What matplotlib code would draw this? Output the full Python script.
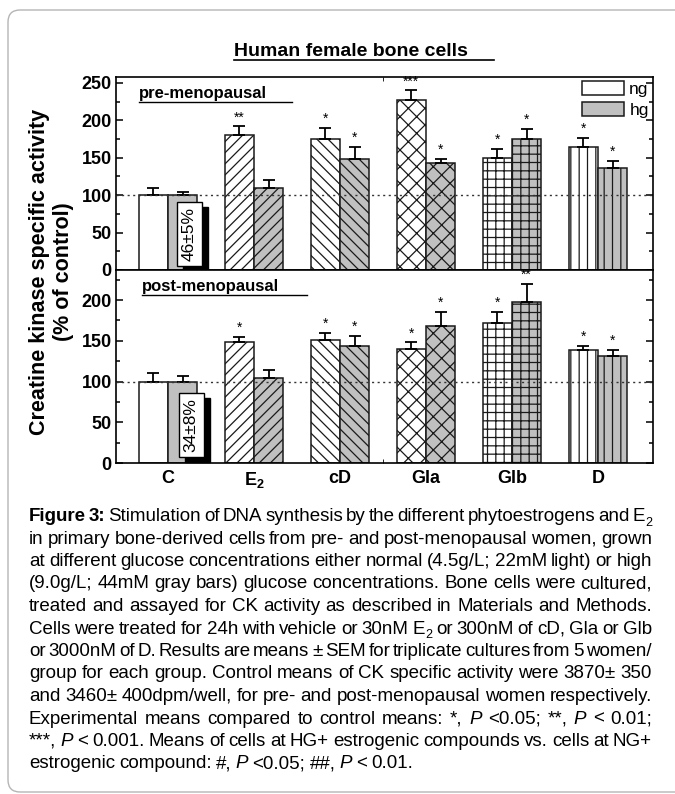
import numpy as np
import matplotlib
matplotlib.use('Agg')
import matplotlib.pyplot as plt
from matplotlib.patches import Patch, FancyBboxPatch, Rectangle

plt.rcParams['font.family'] = ['Liberation Sans', 'DejaVu Sans']
plt.rcParams['mathtext.fontset'] = 'custom'
plt.rcParams['mathtext.rm'] = 'Liberation Sans'
plt.rcParams['mathtext.it'] = 'Liberation Sans:italic'
plt.rcParams['mathtext.bf'] = 'Liberation Sans:bold'
plt.rcParams['hatch.linewidth'] = 0.9

# Grupos y tramas
grupos = ['C', r'$\mathbf{E_2}$', 'cD', 'Gla', 'Glb', 'D']
tramas = ['', '///', '\\\\\\', 'xx', '++', '||']

# Pre-menopausicas
pre_ng = [100, 180, 175, 227, 150, 164]
pre_ng_err = [9, 12, 15, 13, 12, 13]
pre_hg = [100, 109, 149, 143, 175, 136]
pre_hg_err = [4, 11, 15, 6, 13, 10]
pre_ng_sig = ['', '**', '*', '***', '*', '*']
pre_hg_sig = ['', '', '*', '*', '*', '*']

# Post-menopausicas
post_ng = [100, 148, 151, 140, 172, 139]
post_ng_err = [11, 7, 9, 8, 13, 5]
post_hg = [100, 104, 144, 168, 198, 131]
post_hg_err = [7, 10, 12, 17, 22, 8]
post_ng_sig = ['', '*', '*', '*', '*', '*']
post_hg_sig = ['', '', '*', '*', '**', '*']

# Texto de la leyenda de la figura
leyenda = [
    [('Figure 3:', 'b'), (' Stimulation of DNA synthesis by the different phytoestrogens and E', 'n'), ('2', 's')],
    [('in primary bone-derived cells from pre- and post-menopausal women, grown', 'n')],
    [('at different glucose concentrations either normal (4.5g/L; 22mM light) or high', 'n')],
    [('(9.0g/L; 44mM gray bars) glucose concentrations. Bone cells were cultured,', 'n')],
    [('treated and assayed for CK activity as described in Materials and Methods.', 'n')],
    [('Cells were treated for 24h with vehicle or 30nM E', 'n'), ('2', 's'), (' or 300nM of cD, Gla or Glb', 'n')],
    [('or 3000nM of D. Results are means \u00b1 SEM for triplicate cultures from 5 women/', 'n')],
    [('group for each group. Control means of CK specific activity were 3870\u00b1 350', 'n')],
    [('and 3460\u00b1 400dpm/well, for pre- and post-menopausal women respectively.', 'n')],
    [('Experimental means compared to control means: *, ', 'n'), ('P', 'i'), (' <0.05; **, ', 'n'),
     ('P', 'i'), (' < 0.01;', 'n')],
    [('***, ', 'n'), ('P', 'i'), (' < 0.001. Means of cells at HG+ estrogenic compounds vs. cells at NG+', 'n')],
    [('estrogenic compound: #, ', 'n'), ('P', 'i'), (' <0.05; ##, ', 'n'), ('P', 'i'), (' < 0.01.', 'n')],
]

W, H = 675, 794
fig = plt.figure(figsize=(W / 100, H / 100), dpi=100)


def fx(x):
    return x / W


def fy(y):
    return 1 - y / H


# Marco redondeado
marco = FancyBboxPatch((fx(8), fy(792)), fx(720) - fx(8), fy(10) - fy(792),
                       boxstyle='round,pad=0,rounding_size=0.018', transform=fig.transFigure,
                       fc='none', ec='#b5b5b5', lw=1.0, mutation_aspect=W / H)
fig.patches.append(marco)

ax1 = fig.add_axes([fx(116), fy(270), fx(653) - fx(116), fy(77) - fy(270)])
ax2 = fig.add_axes([fx(116), fy(463), fx(653) - fx(116), fy(270) - fy(463)])

x = np.arange(len(grupos))
w = 0.34


def panel(ax, ng, ng_err, hg, hg_err, sig_ng, sig_hg, ymax, yticks):
    for i in range(len(grupos)):
        ax.bar(x[i] - w / 2, ng[i], w, color='white', edgecolor='#1a1a1a', hatch=tramas[i], lw=1.1, zorder=2)
        ax.bar(x[i] + w / 2, hg[i], w, color='#c0c0c0', edgecolor='#1a1a1a', hatch=tramas[i], lw=1.1, zorder=2)
    ax.errorbar(x - w / 2, ng, yerr=[np.zeros(len(ng)), ng_err], fmt='none', ecolor='black',
                elinewidth=1.3, capsize=4, capthick=1.3, zorder=3)
    ax.errorbar(x + w / 2, hg, yerr=[np.zeros(len(hg)), hg_err], fmt='none', ecolor='black',
                elinewidth=1.3, capsize=4, capthick=1.3, zorder=3)
    for i in range(len(grupos)):
        if sig_ng[i]:
            ax.annotate(sig_ng[i], (x[i] - w / 2, ng[i] + ng_err[i]), xytext=(0, 1.5), textcoords='offset points',
                        ha='center', va='bottom', fontsize=10, zorder=5, annotation_clip=False)
        if sig_hg[i]:
            ax.annotate(sig_hg[i], (x[i] + w / 2, hg[i] + hg_err[i]), xytext=(0, 1.5), textcoords='offset points',
                        ha='center', va='bottom', fontsize=10, zorder=5, annotation_clip=False)
    ax.axhline(100, color='#333333', lw=1.0, ls=(0, (1.5, 2.5)), zorder=4)
    ax.set_xlim(-0.605, 5.64)
    ax.set_ylim(0, ymax)
    ax.set_yticks(yticks)
    ax.set_yticks(np.arange(0, ymax, 25), minor=True)
    ax.tick_params(axis='y', which='both', direction='in', right=True, labelsize=13, pad=3, width=1.1)
    ax.tick_params(axis='y', which='major', length=5)
    ax.tick_params(axis='y', which='minor', length=3)
    for lab in ax.get_yticklabels():
        lab.set_fontweight('bold')
    for s in ax.spines.values():
        s.set_linewidth(1.2)
    ax.set_xticks([2.5], minor=True)


panel(ax1, pre_ng, pre_ng_err, pre_hg, pre_hg_err, pre_ng_sig, pre_hg_sig, 258, [0, 50, 100, 150, 200, 250])
panel(ax2, post_ng, post_ng_err, post_hg, post_hg_err, post_ng_sig, post_hg_sig, 237, [0, 50, 100, 150, 200])

ax1.set_xticks([])
ax1.tick_params(axis='x', which='minor', bottom=False, top=True, direction='in', length=3)
ax2.set_xticks(x)
ax2.set_xticklabels(grupos, fontsize=13, fontweight='bold')
ax2.tick_params(axis='x', which='major', length=0, pad=5)
ax2.tick_params(axis='x', which='minor', direction='in', length=3)

# Etiquetas de los paneles
ax1.text(0.043, 0.891, 'pre-menopausal', transform=ax1.transAxes, fontsize=12, fontweight='bold', va='baseline')
ax1.plot([0.043, 0.327], [0.87, 0.87], transform=ax1.transAxes, color='black', lw=1.0)
ax2.text(0.049, 0.891, 'post-menopausal', transform=ax2.transAxes, fontsize=12, fontweight='bold', va='baseline')
ax2.plot([0.049, 0.355], [0.87, 0.87], transform=ax2.transAxes, color='black', lw=1.0)

# Porcentajes en los controles (caja blanca con sombra negra)
cajas = []
for ax, txt, xc, yc in [(ax1, '46\u00b15%', 0.25, 48), (ax2, '34\u00b18%', 0.27, 47)]:
    t = ax.text(xc, yc, txt, rotation=90, ha='center', va='center', fontsize=12.5, zorder=7,
                bbox=dict(boxstyle='square,pad=0.28', fc='white', ec='black', lw=1))
    cajas.append((ax, t))

# Leyenda ng / hg
ax1.legend(handles=[Patch(fc='white', ec='#1a1a1a', lw=1.1), Patch(fc='#c0c0c0', ec='#1a1a1a', lw=1.1)],
           labels=['ng', 'hg'], loc='upper right', frameon=False, fontsize=12.5, handlelength=2.4,
           handleheight=0.85, handletextpad=0.3, labelspacing=0.3, borderaxespad=0.15, borderpad=0.1)

# Titulo
fig.text(fx(234), fy(56), 'Human female bone cells', fontsize=14, fontweight='bold', va='baseline')
fig.add_artist(plt.Line2D([fx(234), fx(494)], [fy(59.5), fy(59.5)], transform=fig.transFigure, color='black', lw=1.2))

# Etiqueta del eje y
fig.text(fx(40), fy(272), 'Creatine kinase specific activity', rotation=90, fontsize=15.5, fontweight='bold',
         ha='center', va='center')
fig.text(fx(63), fy(272), '(% of control)', rotation=90, fontsize=15.5, fontweight='bold', ha='center', va='center')

renderer = fig.canvas.get_renderer()
fig.canvas.draw()

# Sombras de las cajas
for ax, t in cajas:
    bb = t.get_bbox_patch().get_window_extent(renderer)
    (a0, b0), (a1, b1) = ax.transAxes.inverted().transform([[bb.x0 + 6, bb.y0 - 5], [bb.x1 + 6, bb.y1 - 5]])
    ax.add_patch(Rectangle((a0, b0), a1 - a0, b1 - b0, transform=ax.transAxes, fc='black', ec='black',
                           zorder=6, clip_on=False))

# Texto de la figura, justificado
estilos = {'n': dict(fontsize=13.5), 'b': dict(fontsize=13.5, fontweight='bold'),
           'i': dict(fontsize=13.5, fontstyle='italic'), 's': dict(fontsize=9)}


def palabras(runs):
    ws = [[]]
    for txt, st in runs:
        partes = txt.split(' ')
        for k, p in enumerate(partes):
            if k > 0:
                ws.append([])
            if p:
                ws[-1].append((p, st))
    return [wd for wd in ws if wd]


x0, x1 = 29, 652
for k, runs in enumerate(leyenda):
    base = 521 + k * 22.5
    ws = palabras(runs)
    objs = []
    anchos = []
    for wd in ws:
        fila = []
        total = 0
        for txt, st in wd:
            t = fig.text(0, 0, txt, va='baseline', **estilos[st])
            ancho = t.get_window_extent(renderer).width
            fila.append((t, ancho, st))
            total += ancho
        objs.append(fila)
        anchos.append(total)
    if k < len(leyenda) - 1:
        hueco = (x1 - x0 - sum(anchos)) / (len(ws) - 1)
    else:
        hueco = 4.2
    cx = x0
    for fila, total in zip(objs, anchos):
        px = cx
        for t, ancho, st in fila:
            dy = 4.5 if st == 's' else 0
            t.set_position((fx(px), fy(base + dy)))
            px += ancho
        cx += total + hueco

fig.savefig('out.png', dpi=100)
